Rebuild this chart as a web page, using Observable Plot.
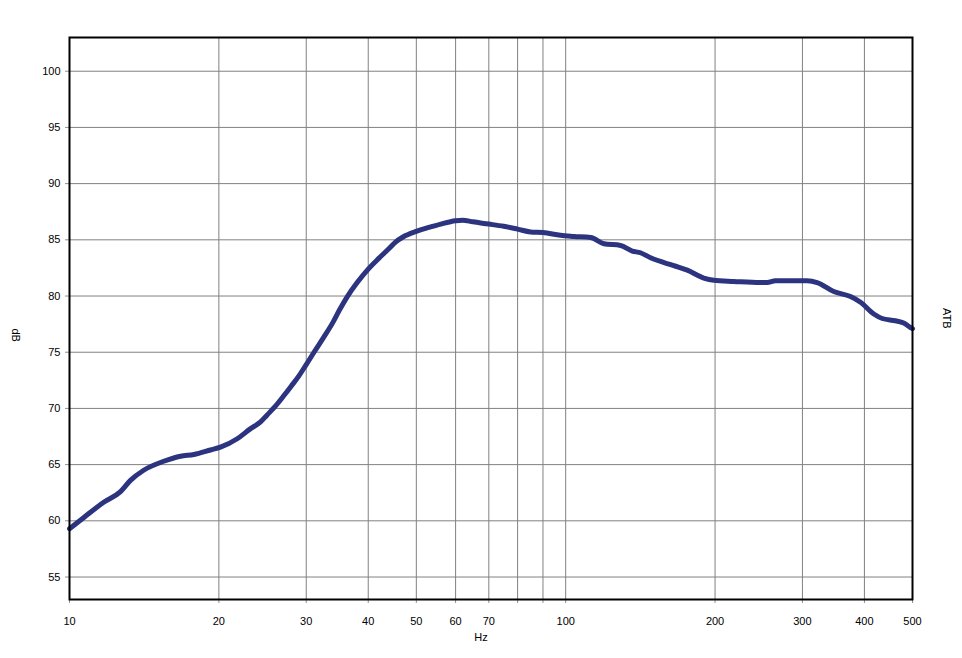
<!DOCTYPE html>
<html><head><meta charset="utf-8">
<script src="https://cdn.jsdelivr.net/npm/d3@7"></script>
<script src="https://cdn.jsdelivr.net/npm/@observablehq/plot@0.6"></script>
<style>body{margin:0;background:#fff;}</style>
</head><body><div id="chart"></div>
<script>
const freqs = [10, 10.69, 11.72, 12.67, 13.27, 14.11, 15.49, 16.74, 17.81, 19.24, 20.15, 21.78, 23.17, 24.27, 25, 26, 27, 28, 29, 30, 31.1, 32.5, 34, 35, 36.3, 38, 40, 42, 44, 45.4, 47, 50, 53, 56, 60, 62, 65, 70, 75, 80, 85, 90, 97.6, 104, 112.3, 119.4, 129, 136.2, 141.5, 148.3, 165.2, 175.8, 189.8, 198.9, 218.2, 247, 254.7, 264.7, 306.7, 321.2, 347, 375, 392.8, 417.8, 434.5, 462, 480, 495.4, 500];
const levels = [59.3, 60.3, 61.65, 62.6, 63.6, 64.5, 65.3, 65.75, 65.9, 66.3, 66.55, 67.3, 68.2, 68.8, 69.4, 70.2, 71.1, 72.0, 72.9, 73.9, 75.0, 76.3, 77.7, 78.75, 79.95, 81.2, 82.4, 83.35, 84.2, 84.8, 85.25, 85.75, 86.1, 86.4, 86.7, 86.75, 86.6, 86.4, 86.2, 85.95, 85.7, 85.65, 85.4, 85.3, 85.2, 84.65, 84.5, 84.0, 83.85, 83.4, 82.7, 82.3, 81.6, 81.4, 81.3, 81.2, 81.2, 81.35, 81.35, 81.2, 80.4, 79.95, 79.45, 78.4, 78.0, 77.8, 77.6, 77.2, 77.1];
const xTicks = [10, 20, 30, 40, 50, 60, 70, 80, 90, 100, 200, 300, 400, 500];
const xTickLabels = ["10", "20", "30", "40", "50", "60", "70", "80", "", "100", "200", "300", "400", "500"];
const yTicks = [55, 60, 65, 70, 75, 80, 85, 90, 95, 100];
const xTitle = "Hz";
const yTitle = "dB";
const rightTitle = "ATB";

const data = freqs.map((f, i) => ({f, db: levels[i]}));

const chart = Plot.plot({
  width: 962,
  height: 658,
  marginLeft: 69,
  marginRight: 50,
  marginTop: 37,
  marginBottom: 59,
  style: {fontFamily: "'Liberation Sans', Arial, sans-serif", fontSize: "11px", background: "#fff", color: "#000"},
  x: {type: "log", domain: [10, 500], label: null},
  y: {domain: [53, 103], label: null},
  marks: [
    Plot.gridX(xTicks, {stroke: "#808080", strokeOpacity: 1, strokeWidth: 1}),
    Plot.gridY(yTicks, {stroke: "#808080", strokeOpacity: 1, strokeWidth: 1}),
    Plot.axisX(xTicks, {tickFormat: d => xTickLabels[xTicks.indexOf(d)], tickSize: 4, tickPadding: 14, stroke: "#909090", fill: "#000", label: null}),
    Plot.axisY(yTicks, {tickSize: 4, tickPadding: 5, stroke: "#909090", fill: "#000", label: null}),
    Plot.line(data, {x: "f", y: "db", stroke: "#2c3480", strokeWidth: 5, curve: "monotone-x", strokeLinejoin: "round", strokeLinecap: "round"}),
    Plot.frame({stroke: "#000", strokeWidth: 2}),
    Plot.text([yTitle], {text: d => d, frameAnchor: "left", dx: -54, dy: 10, rotate: 90, fill: "#000", fontSize: 11}),
    Plot.text([rightTitle], {text: d => d, frameAnchor: "right", dx: 34, dy: 10, rotate: 90, fill: "#000", fontSize: 11}),
    Plot.text([xTitle], {text: d => d, frameAnchor: "bottom", dx: -10, dy: 41, fill: "#000", fontSize: 11})
  ]
});
document.getElementById("chart").appendChild(chart);
</script>
</body></html>
